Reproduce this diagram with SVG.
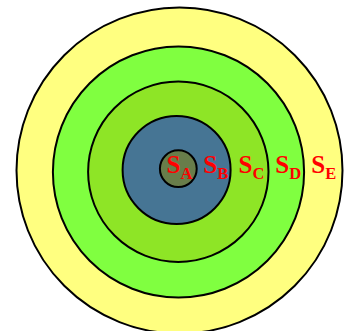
<svg xmlns="http://www.w3.org/2000/svg" width="350" height="331" viewBox="0 0 350 331">
<style>
.ring{stroke:#000;stroke-width:2}
.lbl{font-family:"Liberation Serif","Times New Roman",serif;font-weight:bold;font-size:25px;fill:#ff0000}
.sub{font-size:16.5px}
</style>
<rect width="350" height="331" fill="#ffffff"/>
<g id="SE"><circle class="ring" cx="179.5" cy="170.5" r="163" fill="#ffff80"/></g>
<g id="SD"><circle class="ring" cx="178.5" cy="172" r="125.6" fill="#80ff40"/></g>
<g id="SC"><circle class="ring" cx="178.3" cy="171.8" r="90.2" fill="#8ee526"/></g>
<g id="SB"><circle class="ring" cx="176.6" cy="170" r="54" fill="#467594"/></g>
<g id="SA"><circle class="ring" cx="178.3" cy="168.7" r="18.4" fill="#687d4a"/></g>
<g id="labels">
<text class="lbl" x="166.6" y="173.3">S<tspan class="sub" dy="5.2">A</tspan></text>
<text class="lbl" x="203.3" y="173.3">S<tspan class="sub" dy="5.2">B</tspan></text>
<text class="lbl" x="238.6" y="173.3">S<tspan class="sub" dy="5.2">C</tspan></text>
<text class="lbl" x="275.3" y="173.3">S<tspan class="sub" dy="5.2">D</tspan></text>
<text class="lbl" x="311.3" y="173.3">S<tspan class="sub" dy="5.2">E</tspan></text>
</g>
</svg>
